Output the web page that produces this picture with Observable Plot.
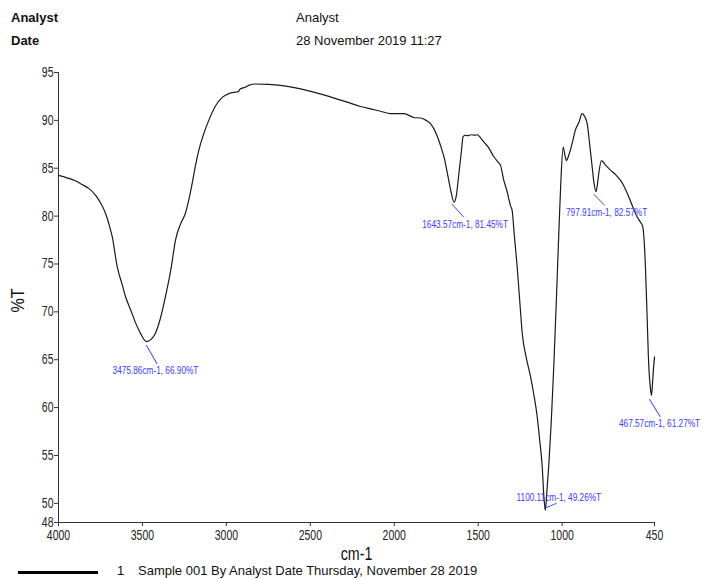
<!DOCTYPE html>
<html>
<head>
<meta charset="utf-8">
<script src="https://cdn.jsdelivr.net/npm/d3@7"></script>
<script src="https://cdn.jsdelivr.net/npm/@observablehq/plot@0.6"></script>
<style>
  html, body { margin: 0; padding: 0; background: #fff; }
  #wrap { position: relative; width: 703px; height: 579px; overflow: hidden; font-family: "Liberation Sans", Arial, sans-serif; color: #111; }
  #chart { position: absolute; left: 0; top: 0; }
  .hdr { position: absolute; font-size: 13px; line-height: 15px; white-space: nowrap; }
  .b { font-weight: bold; }
  #legend { position: absolute; left: 0; top: 563px; width: 703px; height: 16px; font-size: 13px; }
  #legend .swatch { position: absolute; left: 18px; top: 8px; width: 80px; height: 0; border-top: 3px solid #000; }
  #legend .num { position: absolute; left: 117px; top: 0px; }
  #legend .txt { position: absolute; left: 138px; top: 0px; white-space: nowrap; }
</style>
</head>
<body>
<div id="wrap">
  <div class="hdr b" style="left:11px; top:10px;">Analyst</div>
  <div class="hdr b" style="left:11px; top:33px;">Date</div>
  <div class="hdr" style="left:296px; top:10px;">Analyst</div>
  <div class="hdr" style="left:296px; top:33px;">28 November 2019 11:27</div>
  <div id="chart"></div>
  <div id="legend">
    <div class="swatch"></div>
    <div class="num">1</div>
    <div class="txt">Sample 001 By Analyst Date Thursday, November 28 2019</div>
  </div>
</div>
<script>
// ---- data ----
const wavenumbers = [
  4000, 3950, 3900, 3859, 3820, 3780, 3750, 3720, 3700, 3680, 3650, 3620, 3601, 3570, 3541, 3510, 3490, 3476, 3450, 3422,
  3395, 3363, 3330, 3303, 3270, 3244, 3220, 3204, 3185, 3164, 3135, 3105, 3065, 3025, 2985, 2946, 2930, 2916, 2890, 2867,
  2827, 2750, 2678, 2588, 2479, 2380, 2281, 2200, 2142, 2080, 2023, 1980, 1943, 1910, 1884, 1844, 1810, 1784, 1750, 1725,
  1700, 1685, 1665, 1644, 1630, 1616, 1600, 1590, 1575, 1566, 1540, 1520, 1506, 1487, 1467, 1440, 1407, 1380, 1367, 1348,
  1330, 1308, 1298, 1285, 1268, 1250, 1238, 1215, 1189, 1170, 1149, 1135, 1119, 1108, 1100, 1090, 1080, 1065, 1050, 1035,
  1020, 1008, 994, 985, 974, 962, 951, 935, 921, 900, 881, 866, 851, 836, 821, 810, 798, 790, 782, 766,
  740, 712, 680, 653, 628, 603, 580, 553, 535, 520, 512, 504, 494, 484, 476, 468, 462, 458, 450
];
const transmittance = [
  84.25, 84.0, 83.7, 83.3, 82.9, 82.2, 81.4, 80.3, 79.2, 77.85, 74.7, 72.8, 71.6, 70.2, 68.85, 67.7, 67.1, 66.9, 67.1, 67.8,
  69.2, 71.6, 74.5, 77.5, 79.3, 80.3, 82.0, 83.4, 85.2, 86.9, 88.6, 90.0, 91.5, 92.4, 92.8, 92.95, 93.0, 93.3, 93.45, 93.65,
  93.8, 93.75, 93.65, 93.4, 92.95, 92.45, 91.9, 91.45, 91.2, 90.95, 90.7, 90.7, 90.7, 90.5, 90.3, 90.25, 90.0, 89.65, 88.6, 87.4,
  85.9, 84.6, 82.8, 81.45, 82.2, 84.3, 86.8, 88.3, 88.45, 88.4, 88.5, 88.45, 88.5, 88.2, 87.75, 87.2, 86.2, 85.6, 85.3, 83.75,
  82.7, 81.1, 80.6, 78.0, 74.7, 70.5, 67.8, 65.3, 63.3, 61.5, 59.1, 56.8, 53.9, 50.5, 49.26, 51.5, 53.9, 58.5, 64.3, 71.0,
  78.2, 83.5, 87.2, 86.5, 85.8, 86.3, 86.9, 88.0, 89.0, 89.8, 90.7, 90.4, 89.65, 87.5, 85.1, 83.4, 82.57, 83.3, 84.45, 85.8,
  85.3, 84.8, 84.3, 83.75, 83.0, 82.0, 81.0, 79.9, 79.4, 78.9, 77.5, 74.7, 69.5, 64.3, 62.3, 61.27, 62.5, 63.6, 65.3
];
const peakWavenumbers = [3475.86, 1643.57, 1100.11, 797.91, 467.57];
const peakTransmittance = [66.90, 81.45, 49.26, 82.57, 61.27];
const xTicks = [4000, 3500, 3000, 2500, 2000, 1500, 1000, 450];
const yTicks = [48, 50, 55, 60, 65, 70, 75, 80, 85, 90, 95];

// ---- layout of the peak call-outs (pixel offsets, kept apart from the data) ----
const calloutLayout = [
  {lx: 0, ly: 4, rotate: 150, length: 21, tx: 9, ty: 29},
  {lx: -2, ly: 2, rotate: 138, length: 17, tx: 11, ty: 22},
  {lx: -1, ly: -2, rotate: 67, length: 13, tx: 13.5, ty: -13},
  {lx: -2, ly: 3, rotate: 136, length: 15, tx: 10.5, ty: 20.7},
  {lx: -2, ly: 4, rotate: 148, length: 20, tx: 8, ty: 28}
];

const spectrum = wavenumbers.map((wn, i) => ({wn, t: transmittance[i]}));
const peaks = peakWavenumbers.map((wn, i) => ({
  wn, t: peakTransmittance[i],
  label: `${wn.toFixed(2)}cm-1, ${peakTransmittance[i].toFixed(2)}%T`
}));

const font = "'Liberation Sans', Arial, sans-serif";
const blue = "#3b3bff";
const leaderShape = {draw(context, l) { context.moveTo(0, 0); context.lineTo(0, -l); }};

const callouts = peaks.flatMap((p, i) => {
  const L = calloutLayout[i];
  return [
    Plot.vector([p], {x: "wn", y: "t", anchor: "start", rotate: L.rotate, length: L.length,
      shape: leaderShape, dx: L.lx, dy: L.ly, stroke: blue, strokeWidth: 0.9}),
    Plot.text([p], {x: "wn", y: "t", text: "label", dx: L.tx, dy: L.ty, fill: blue,
      fontSize: 11, fontFamily: font, textAnchor: "middle", lineAnchor: "middle"})
  ];
});

const chart = Plot.plot({
  width: 703,
  height: 579,
  marginTop: 72,
  marginLeft: 58,
  marginRight: 49,
  marginBottom: 57,
  style: {fontFamily: font, fontSize: "14px", color: "#222", background: "transparent"},
  x: {domain: [4000, 450], label: null},
  y: {domain: [48, 95], label: null},
  marks: [
    Plot.axisX({ticks: xTicks, tickSize: 4, tickPadding: 3.5, tickFormat: d => String(d), label: null, stroke: "#333"}),
    Plot.axisY({ticks: yTicks, tickSize: 4, tickPadding: 1, tickFormat: d => String(d), label: null, stroke: "#333"}),
    Plot.ruleX([4000], {stroke: "#333"}),
    Plot.ruleY([48], {stroke: "#333"}),
    Plot.line(spectrum, {x: "wn", y: "t", curve: "monotone-x", stroke: "#1a1a1a", strokeWidth: 1.2}),
    ...callouts,
    Plot.text(["cm-1"], {frameAnchor: "bottom", dy: 31, text: d => d, fontSize: 19, fontFamily: font, fill: "#111", textAnchor: "middle", lineAnchor: "middle"}),
    Plot.text(["%T"], {frameAnchor: "left", dx: -41, dy: 3, rotate: -90, text: d => d, fontSize: 19, fontFamily: font, fill: "#111", textAnchor: "middle", lineAnchor: "middle"})
  ]
});
document.getElementById("chart").appendChild(chart);

// condense the chart's lettering, as the original instrument font is a narrow face
function condense(el, k) {
  const w = el.getComputedTextLength();
  if (w > 0) { el.setAttribute("textLength", (w * k).toFixed(2)); el.setAttribute("lengthAdjust", "spacingAndGlyphs"); }
}
chart.querySelectorAll("text").forEach(el => {
  const k = el.textContent === "%T" ? 0.85 : 0.75;
  const spans = el.querySelectorAll("tspan");
  if (spans.length) spans.forEach(ts => condense(ts, k));
  else condense(el, k);
});
</script>
</body>
</html>
